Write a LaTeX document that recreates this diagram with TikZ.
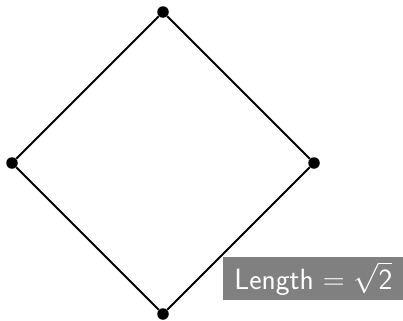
\documentclass[tikz,border=0pt]{standalone}
\usepackage{sansmath}
\usepackage{tikz}
\usetikzlibrary{positioning}

\begin{document}
\begin{tikzpicture}[x=3.02cm, y=3.02cm,
    vertex/.style={circle, fill=black, inner sep=0pt, minimum size=0.23cm},
    side/.style={line width=1.1pt},
    lengthbox/.style={fill=gray, text=white, minimum width=3.62cm, minimum height=0.86cm, inner sep=0pt, font=\fontsize{16.7}{20}\selectfont\sffamily\sansmath}]
    \useasboundingbox (-1.0795,-1.0397) rectangle (1.5894,1.0795);

    % Vertices
    \node[vertex] (top) at (0,1) {};
    \node[vertex] (left) at (-1,0) {};
    \node[vertex] (right) at (1,0) {};
    \node[vertex] (bottom) at (0,-1) {};

    % Sides
    \draw[side] (top) -- (left) -- (bottom) -- (right) -- (top);

    % Label
    \node[lengthbox] (len) at (0.996,-0.765) {Length $= \sqrt{\mbox{\sffamily 2}}$};
\end{tikzpicture}
\end{document}
